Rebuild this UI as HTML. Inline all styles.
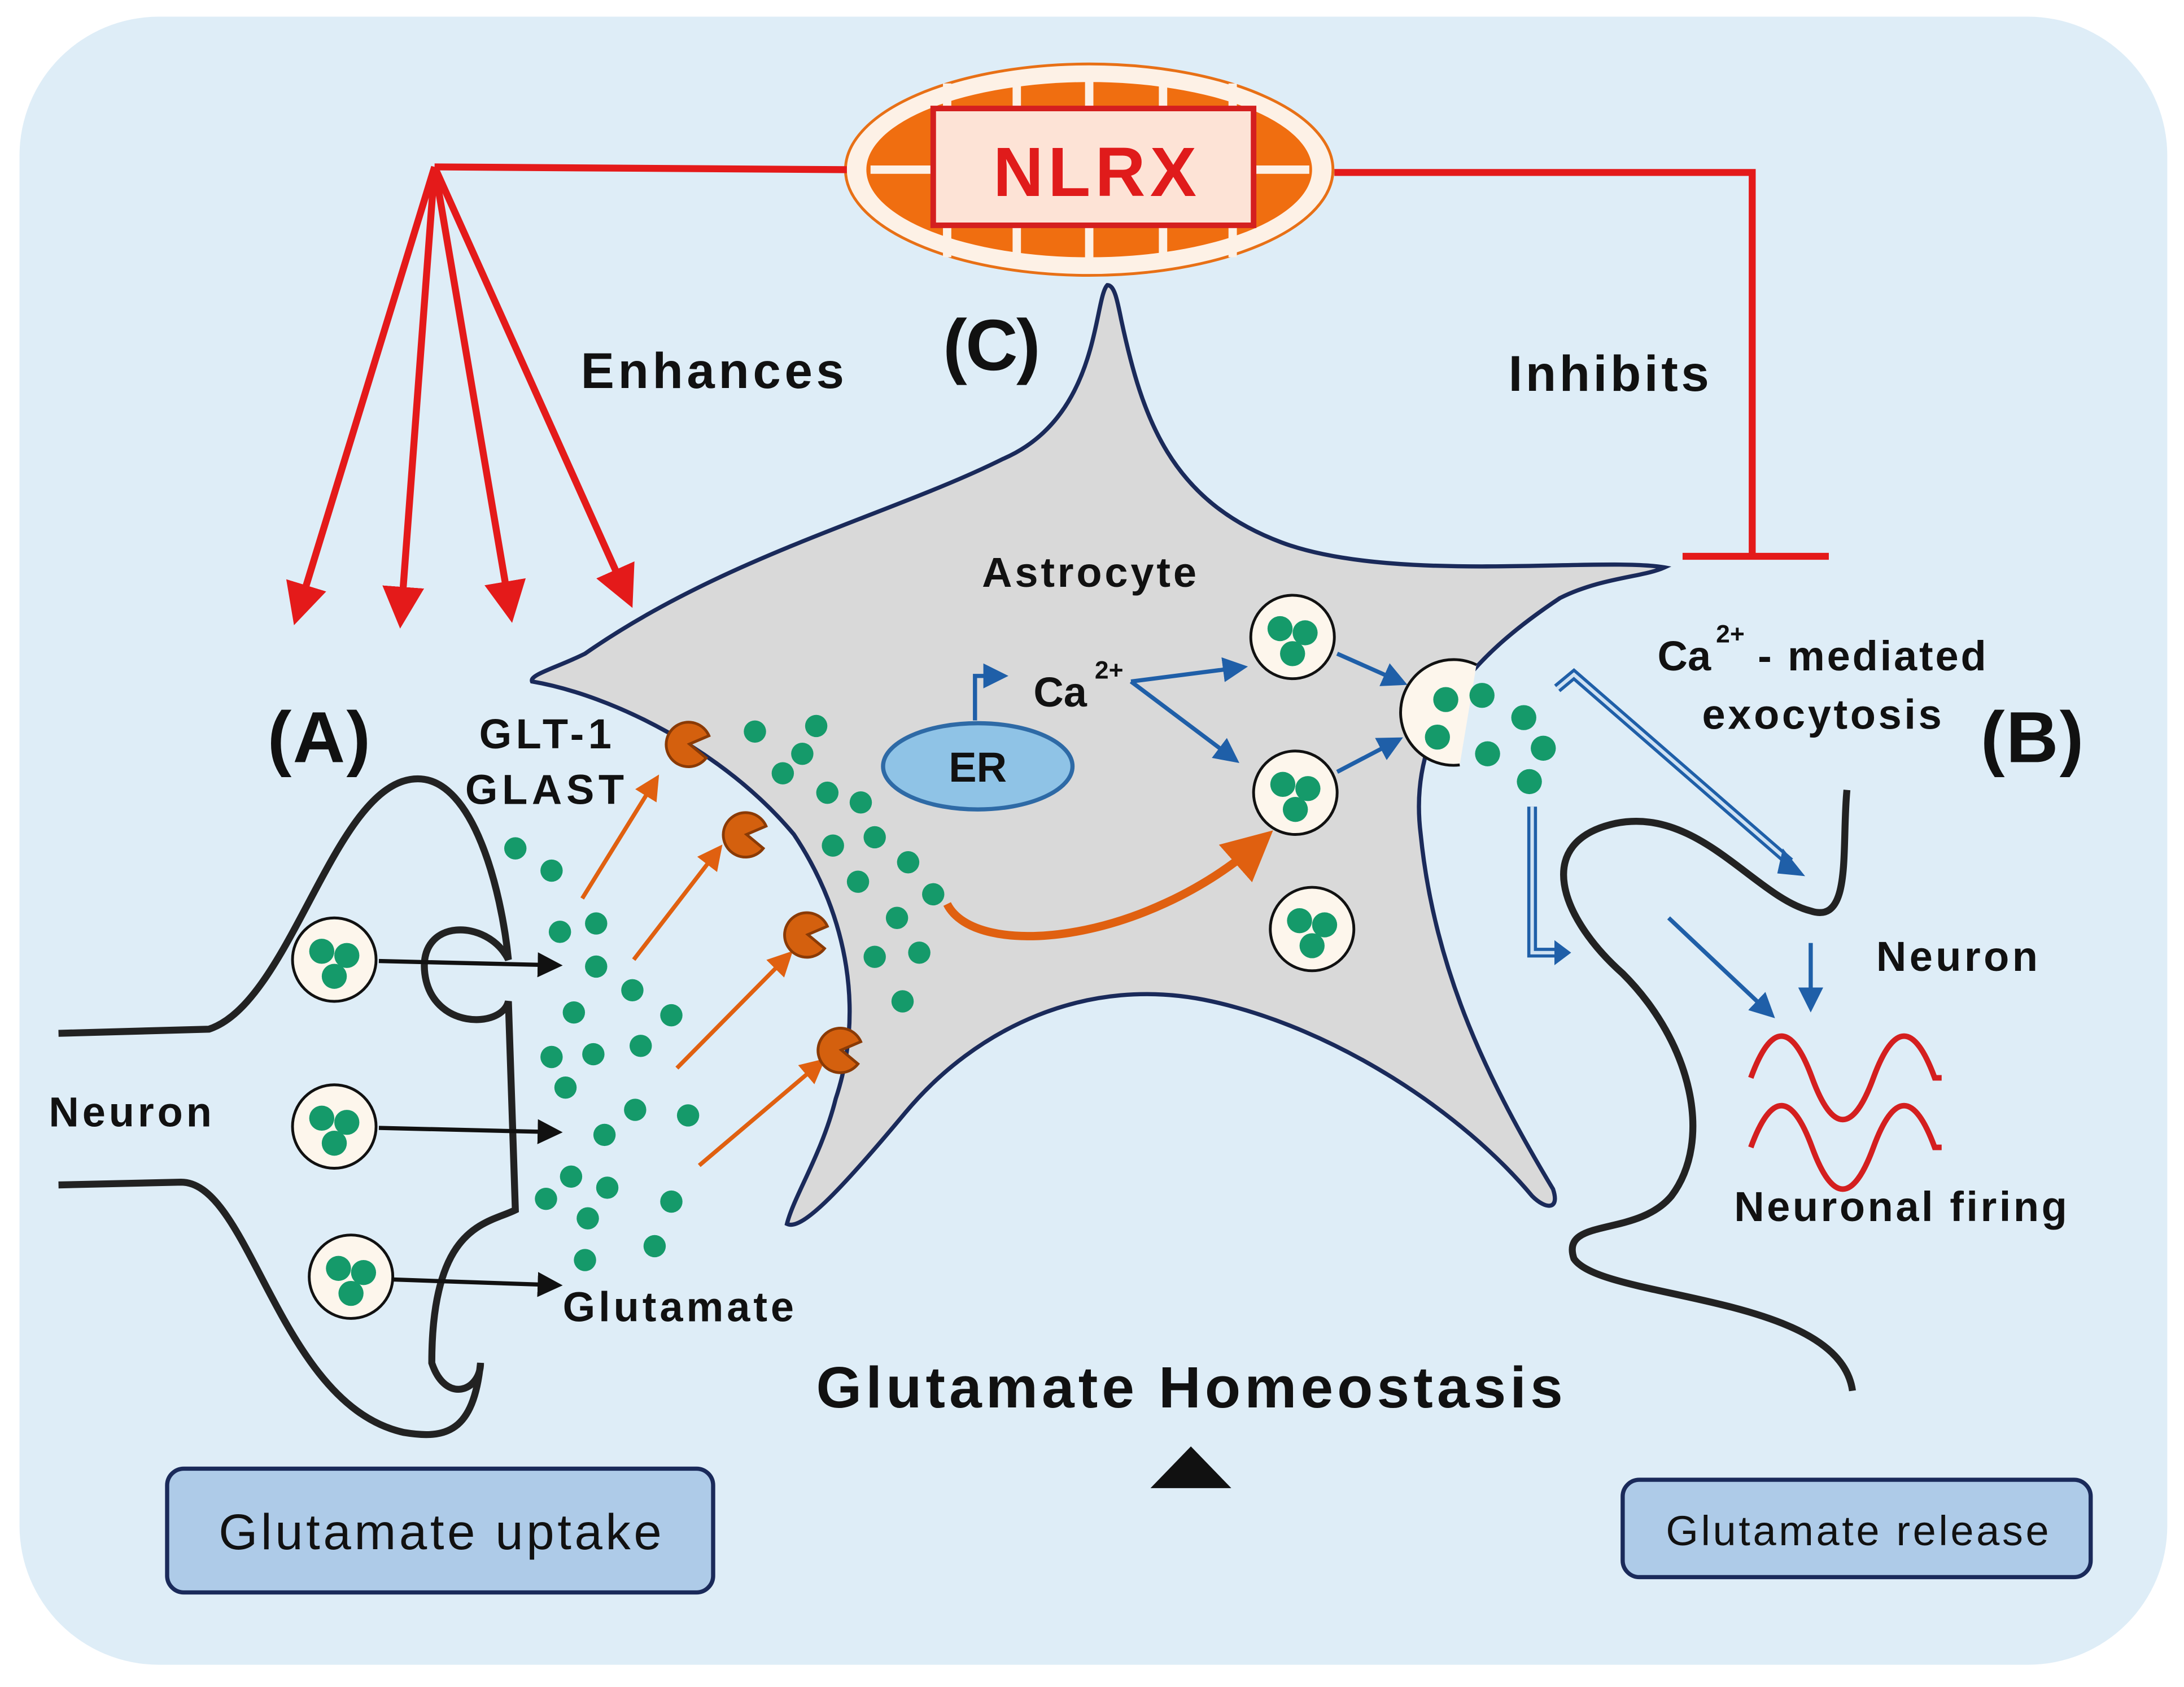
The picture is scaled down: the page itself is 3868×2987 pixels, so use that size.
<!DOCTYPE html>
<html><head><meta charset="utf-8"><style>
html,body{margin:0;padding:0;background:#fff}
svg{display:block}
text{font-family:"Liberation Sans",sans-serif;font-weight:bold;fill:#111}
</style></head><body>
<svg width="3868" height="2987" viewBox="0 0 1568 1213" preserveAspectRatio="none" xmlns="http://www.w3.org/2000/svg">
<defs>
<marker id="ar" markerWidth="6" markerHeight="6" refX="4" refY="3" orient="auto" markerUnits="strokeWidth"><path d="M0,0 L6,3 L0,6 z" fill="#e41a1a"/></marker>
<marker id="ao" markerWidth="6" markerHeight="6" refX="4" refY="3" orient="auto" markerUnits="strokeWidth"><path d="M0,0 L6,3 L0,6 z" fill="#e06010"/></marker>
<marker id="ab" markerWidth="6" markerHeight="6" refX="4" refY="3" orient="auto" markerUnits="strokeWidth"><path d="M0,0 L6,3 L0,6 z" fill="#1f5fa8"/></marker>
<marker id="ak" markerWidth="6" markerHeight="6" refX="4" refY="3" orient="auto" markerUnits="strokeWidth"><path d="M0,0 L6,3 L0,6 z" fill="#111"/></marker>
<g id="ves"><circle r="30" fill="#fdf6ec" stroke="#111" stroke-width="2"/><circle cx="-9" cy="-6" r="9" fill="#159a6a"/><circle cx="9" cy="-3" r="9" fill="#159a6a"/><circle cx="0" cy="12" r="9" fill="#159a6a"/></g>
<g id="rec"><path d="M0,0 L14,-6 A16,16 0 1 0 12,10 Z" fill="#d4600e" stroke="#8a3a05" stroke-width="2"/></g>
</defs>
<rect x="14" y="12" width="1542" height="1185" rx="100" fill="#deedf7"/>
<!-- mitochondrion -->
<ellipse cx="782" cy="122" rx="175" ry="76" fill="#fdf1e6" stroke="#e87016" stroke-width="2"/>
<ellipse cx="782" cy="122" rx="160" ry="63" fill="#f06e10"/>
<g stroke="#fdf1e6" stroke-width="6">
<line x1="680" y1="60" x2="680" y2="80"/><line x1="680" y1="160" x2="680" y2="185"/>
<line x1="730" y1="58" x2="730" y2="80"/><line x1="730" y1="160" x2="730" y2="188"/>
<line x1="782" y1="58" x2="782" y2="80"/><line x1="782" y1="160" x2="782" y2="188"/>
<line x1="835" y1="58" x2="835" y2="80"/><line x1="835" y1="160" x2="835" y2="188"/>
<line x1="885" y1="60" x2="885" y2="80"/><line x1="885" y1="160" x2="885" y2="185"/>
<line x1="625" y1="122" x2="670" y2="122"/><line x1="900" y1="122" x2="940" y2="122"/></g>
<rect x="670" y="78" width="230" height="84" fill="#fde3d6" stroke="#d41f1f" stroke-width="4"/>
<text x="713" y="141" font-size="50" textLength="146" style="fill:#e01b1b">NLRX</text>
<!-- red lines -->
<g stroke="#e41a1a" stroke-width="5" fill="none">
<line x1="312" y1="120" x2="608" y2="122"/>
<line x1="312" y1="120" x2="214" y2="440" marker-end="url(#ar)"/>
<line x1="312" y1="120" x2="288" y2="442" marker-end="url(#ar)"/>
<line x1="312" y1="120" x2="366" y2="438" marker-end="url(#ar)"/>
<line x1="312" y1="120" x2="450" y2="428" marker-end="url(#ar)"/>
<polyline points="958,124 1258,124 1258,400"/>
<line x1="1208" y1="400" x2="1313" y2="400"/>
</g>
<text x="417" y="279" font-size="36" textLength="189">Enhances</text>
<text x="1083" y="281" font-size="36" textLength="144">Inhibits</text>
<text x="677" y="266" font-size="52" textLength="70">(C)</text>
<text x="192" y="548" font-size="52" textLength="74">(A)</text>
<text x="1422" y="548" font-size="52" textLength="74">(B)</text>
<!-- astrocyte -->
<path d="M795,205 C785,215 790,300 720,330 C640,370 520,400 420,470 C400,480 380,485 382,490 C440,500 520,540 570,600 C610,660 620,730 600,790 C590,830 570,860 565,880 C575,885 600,860 650,800 C700,740 780,700 870,720 C960,740 1050,800 1100,860 C1110,870 1120,870 1115,855 C1070,780 1030,700 1020,600 C1010,520 1060,470 1120,430 C1150,415 1180,415 1195,408 C1150,400 1000,420 920,390 C840,360 820,300 805,230 C802,215 800,205 795,205 Z" fill="#d9d9d9" stroke="#1a2a5a" stroke-width="3"/>
<text x="705" y="422" font-size="30" textLength="154">Astrocyte</text>
<ellipse cx="702" cy="551" rx="68" ry="31" fill="#8fc3e6" stroke="#2e6aa6" stroke-width="3"/>
<text x="702" y="562" font-size="30" text-anchor="middle">ER</text>
<path d="M700,518 L700,486 L718,486" stroke="#1f5fa8" stroke-width="3" fill="none" marker-end="url(#ab)"/>
<text x="742" y="508" font-size="30">Ca</text><text x="786" y="488" font-size="18">2+</text>
<g stroke="#1f5fa8" stroke-width="3" fill="none">
<line x1="812" y1="490" x2="890" y2="480" marker-end="url(#ab)"/>
<line x1="812" y1="490" x2="885" y2="545" marker-end="url(#ab)"/>
<line x1="960" y1="470" x2="1005" y2="490" marker-end="url(#ab)"/>
<line x1="960" y1="555" x2="1002" y2="533" marker-end="url(#ab)"/>
</g>
<use href="#ves" x="928" y="458"/>
<use href="#ves" x="930" y="570"/>
<use href="#ves" x="942" y="668"/>
<path d="M1048,550 A38,38 0 1 1 1060,478" fill="#fdf6ec" stroke="#111" stroke-width="2"/>
<g fill="#159a6a"><circle cx="1038" cy="503" r="9"/><circle cx="1064" cy="500" r="9"/><circle cx="1032" cy="530" r="9"/><circle cx="1094" cy="516" r="9"/><circle cx="1068" cy="542" r="9"/><circle cx="1108" cy="538" r="9"/><circle cx="1098" cy="562" r="9"/></g>
<g fill="none" stroke="#1f5fa8" stroke-width="7">
<path d="M1118,495 L1130,485 L1285,620"/>
<path d="M1100,580 L1100,685 L1118,685"/>
</g>
<g fill="none" stroke="#cfe2f3" stroke-width="2.5">
<path d="M1118,495 L1130,485 L1285,620"/>
<path d="M1100,580 L1100,685 L1118,685"/>
</g>
<path d="M1280,610 L1296,630 L1276,628 Z" fill="#1f5fa8"/>
<path d="M1116,676 L1128,685 L1116,694 Z" fill="#1f5fa8"/>
<g stroke="#1f5fa8" stroke-width="3" fill="none">
<line x1="1198" y1="660" x2="1270" y2="728" marker-end="url(#ab)"/>
<line x1="1300" y1="678" x2="1300" y2="722" marker-end="url(#ab)"/>
</g>
<text x="1190" y="482" font-size="30">Ca</text><text x="1232" y="462" font-size="18">2+</text><text x="1262" y="482" font-size="30" textLength="164">- mediated</text>
<text x="1222" y="524" font-size="30" textLength="172">exocytosis</text>
<!-- right neuron -->
<path d="M1326,568 C1322,610 1330,665 1300,655 C1260,645 1220,580 1160,592 C1100,605 1120,660 1165,700 C1215,750 1230,820 1200,860 C1175,890 1120,875 1130,905 C1150,935 1320,930 1330,1000" stroke="#222" stroke-width="5" fill="none"/>
<text x="1347" y="698" font-size="30" textLength="116">Neuron</text>
<g stroke="#d41f1f" stroke-width="4" fill="none">
<path d="M1257,775 q22,-60 44,0 t44,0 t44,0 l5,0"/>
<path d="M1257,825 q22,-60 44,0 t44,0 t44,0 l5,0"/>
</g>
<text x="1245" y="878" font-size="30" textLength="239">Neuronal firing</text>
<!-- left neuron -->
<path d="M42,743 L150,740 C210,720 240,560 300,560 C340,560 360,640 365,690 C350,660 300,660 305,700 C310,740 360,740 365,720 L370,870 C350,880 310,880 310,980 C320,1010 345,1000 345,980 C340,1030 320,1035 290,1030 C200,1010 180,850 130,850 L42,852" stroke="#222" stroke-width="5" fill="none"/>
<text x="35" y="810" font-size="30" textLength="117">Neuron</text>
<use href="#ves" x="240" y="690"/>
<use href="#ves" x="240" y="810"/>
<use href="#ves" x="252" y="918"/>
<g stroke="#111" stroke-width="3" fill="none">
<line x1="272" y1="691" x2="398" y2="694" marker-end="url(#ak)"/>
<line x1="272" y1="811" x2="398" y2="814" marker-end="url(#ak)"/>
<line x1="282" y1="920" x2="398" y2="924" marker-end="url(#ak)"/>
</g>
<text x="344" y="538" font-size="30" textLength="95">GLT-1</text>
<text x="334" y="578" font-size="30" textLength="114">GLAST</text>
<text x="404" y="950" font-size="30" textLength="166">Glutamate</text>
<g fill="#159a6a">
<circle cx="370" cy="610" r="8"/><circle cx="396" cy="626" r="8"/><circle cx="402" cy="670" r="8"/><circle cx="428" cy="664" r="8"/><circle cx="428" cy="695" r="8"/><circle cx="412" cy="728" r="8"/><circle cx="454" cy="712" r="8"/><circle cx="482" cy="730" r="8"/><circle cx="396" cy="760" r="8"/><circle cx="426" cy="758" r="8"/><circle cx="460" cy="752" r="8"/><circle cx="406" cy="782" r="8"/><circle cx="456" cy="798" r="8"/><circle cx="494" cy="802" r="8"/><circle cx="434" cy="816" r="8"/><circle cx="410" cy="846" r="8"/><circle cx="392" cy="862" r="8"/><circle cx="436" cy="854" r="8"/><circle cx="482" cy="864" r="8"/><circle cx="422" cy="876" r="8"/><circle cx="470" cy="896" r="8"/><circle cx="420" cy="906" r="8"/>
<circle cx="542" cy="526" r="8"/><circle cx="586" cy="522" r="8"/><circle cx="576" cy="542" r="8"/><circle cx="562" cy="556" r="8"/><circle cx="594" cy="570" r="8"/><circle cx="618" cy="577" r="8"/><circle cx="598" cy="608" r="8"/><circle cx="628" cy="602" r="8"/><circle cx="652" cy="620" r="8"/><circle cx="616" cy="634" r="8"/><circle cx="670" cy="643" r="8"/><circle cx="644" cy="660" r="8"/><circle cx="628" cy="688" r="8"/><circle cx="660" cy="685" r="8"/><circle cx="648" cy="720" r="8"/>
</g>
<g stroke="#e06010" stroke-width="3" fill="none">
<line x1="418" y1="646" x2="470" y2="562" marker-end="url(#ao)"/>
<line x1="455" y1="690" x2="515" y2="612" marker-end="url(#ao)"/>
<line x1="486" y1="768" x2="565" y2="688" marker-end="url(#ao)"/>
<line x1="502" y1="838" x2="588" y2="765" marker-end="url(#ao)"/>
</g>
<path d="M680,650 C700,690 820,680 905,605" stroke="#e06010" stroke-width="6" fill="none" marker-end="url(#ao)"/>
<use href="#rec" x="495" y="535"/>
<use href="#rec" x="536" y="600"/>
<use href="#rec" x="580" y="672"/>
<use href="#rec" x="604" y="755"/>
<text x="586" y="1012" font-size="42" textLength="536">Glutamate Homeostasis</text>
<path d="M826,1070 L855,1040 L884,1070 Z" fill="#111"/>
<rect x="120" y="1056" width="392" height="89" rx="12" fill="#aecbe8" stroke="#1a2a5a" stroke-width="3"/>
<text x="157" y="1114" font-size="36" textLength="318" style="font-weight:normal">Glutamate uptake</text>
<rect x="1165" y="1064" width="336" height="70" rx="12" fill="#aecbe8" stroke="#1a2a5a" stroke-width="3"/>
<text x="1196" y="1111" font-size="30" textLength="275" style="font-weight:normal">Glutamate release</text>
</svg>
</body></html>
